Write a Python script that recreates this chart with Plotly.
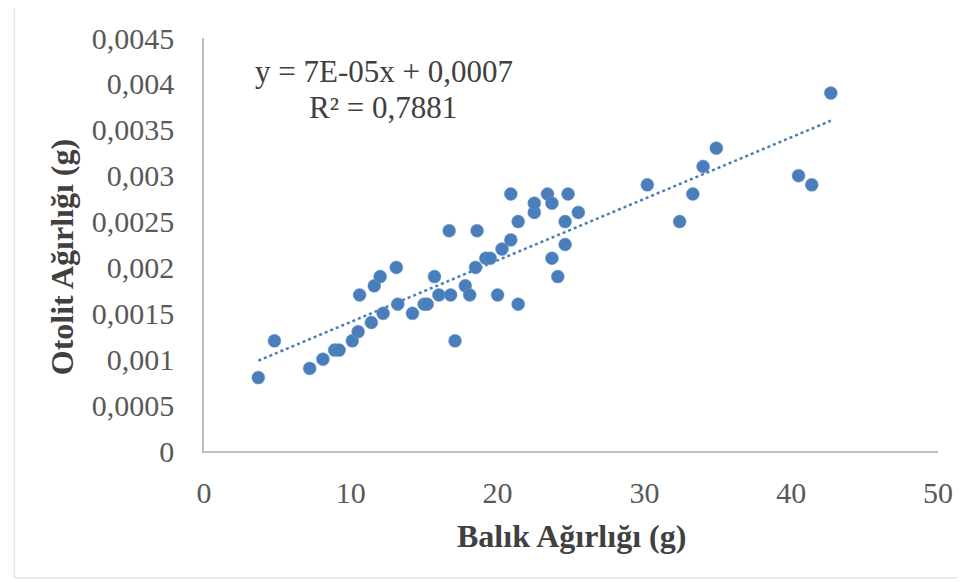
import numpy as np
import plotly.graph_objects as go

# Balık ağırlığı (g) vs otolit ağırlığı (g)
fish_weight = [
    3.7, 4.8, 7.2, 8.1, 8.9, 9.2, 10.1, 10.5, 10.6, 11.4, 11.6, 12.0, 12.2,
    13.1, 13.2, 14.2, 15.0, 15.2, 15.7, 16.0, 16.7, 16.8, 17.1, 17.8, 18.1,
    18.6, 18.5, 19.2, 19.5, 20.0, 20.3, 20.9, 20.9, 21.4, 21.4, 22.5, 22.5,
    23.4, 23.7, 23.7, 24.1, 24.6, 24.6, 24.8, 25.5, 30.2, 32.4, 33.3, 34.0,
    34.9, 40.5, 41.4, 42.7,
]
otolith_weight = [
    0.0008, 0.0012, 0.0009, 0.0010, 0.0011, 0.0011, 0.0012, 0.0013, 0.0017,
    0.0014, 0.0018, 0.0019, 0.0015, 0.0020, 0.0016, 0.0015, 0.0016, 0.0016,
    0.0019, 0.0017, 0.0024, 0.0017, 0.0012, 0.0018, 0.0017, 0.0024, 0.0020,
    0.0021, 0.0021, 0.0017, 0.0022, 0.0023, 0.0028, 0.0016, 0.0025, 0.0026,
    0.0027, 0.0028, 0.0021, 0.0027, 0.0019, 0.0025, 0.00225, 0.0028, 0.0026,
    0.0029, 0.0025, 0.0028, 0.0031, 0.0033, 0.0030, 0.0029, 0.0039,
]

y_tick_vals = [0, 0.0005, 0.001, 0.0015, 0.002, 0.0025, 0.003, 0.0035, 0.004, 0.0045]
y_tick_text = ["0", "0,0005", "0,001", "0,0015", "0,002", "0,0025", "0,003",
               "0,0035", "0,004", "0,0045"]
x_tick_vals = [0, 10, 20, 30, 40, 50]

equation_text = "y = 7E-05x + 0,0007"
r2_text = "R² = 0,7881"

blue = "#4A7EBB"
serif = "Liberation Serif, Times New Roman, serif"

# linear trendline (Excel-style) from the data
slope, intercept = np.polyfit(fish_weight, otolith_weight, 1)
trend_x = np.array([min(fish_weight), max(fish_weight)])
trend_y = slope * trend_x + intercept

fig = go.Figure()
fig.add_trace(
    go.Scatter(
        x=trend_x,
        y=trend_y,
        mode="lines",
        line=dict(color=blue, width=2.5, dash="dot"),
        hoverinfo="skip",
    )
)
fig.add_trace(
    go.Scatter(
        x=fish_weight,
        y=otolith_weight,
        mode="markers",
        marker=dict(color=blue, size=13, line=dict(width=0.5, color="#6F9AD0")),
    )
)

fig.update_layout(
    width=965,
    height=583,
    autosize=False,
    margin=dict(l=196, r=35, t=30, b=140),
    paper_bgcolor="white",
    plot_bgcolor="white",
    showlegend=False,
    font=dict(family=serif, size=30, color="#595959"),
    xaxis=dict(
        range=[0, 50],
        tickvals=x_tick_vals,
        showgrid=False,
        zeroline=False,
        showline=True,
        linecolor="#BFBFBF",
        linewidth=1.5,
        ticks="",
        ticklabelstandoff=14,
    ),
    yaxis=dict(
        range=[0, 0.0045],
        tickvals=y_tick_vals,
        ticktext=y_tick_text,
        showgrid=False,
        zeroline=False,
        showline=True,
        linecolor="#BFBFBF",
        linewidth=1.5,
        ticks="",
        ticklabelstandoff=22,
    ),
    shapes=[
        dict(
            type="rect",
            xref="paper",
            yref="paper",
            x0=-0.2585,
            x1=1.037,
            y0=-0.3075,
            y1=1.0775,
            line=dict(color="#D9D9D9", width=1),
        )
    ],
    annotations=[
        dict(
            text="<b>Balık Ağırlığı (g)</b>",
            xref="paper",
            yref="paper",
            x=0.5,
            y=-0.205,
            xanchor="center",
            yanchor="middle",
            showarrow=False,
            font=dict(family=serif, size=32, color="#404040"),
        ),
        dict(
            text="<b>Otolit Ağırlığı (g)</b>",
            xref="paper",
            yref="paper",
            x=-0.193,
            y=0.47,
            xanchor="center",
            yanchor="middle",
            textangle=-90,
            showarrow=False,
            font=dict(family=serif, size=32, color="#404040"),
        ),
        dict(
            text=equation_text,
            xref="paper",
            yref="paper",
            x=0.2459,
            y=0.9177,
            xanchor="center",
            yanchor="middle",
            showarrow=False,
            font=dict(family=serif, size=31, color="#404040"),
        ),
        dict(
            text=r2_text,
            xref="paper",
            yref="paper",
            x=0.2445,
            y=0.8329,
            xanchor="center",
            yanchor="middle",
            showarrow=False,
            font=dict(family=serif, size=31, color="#404040"),
        ),
    ],
)

fig.write_html("out.html")
